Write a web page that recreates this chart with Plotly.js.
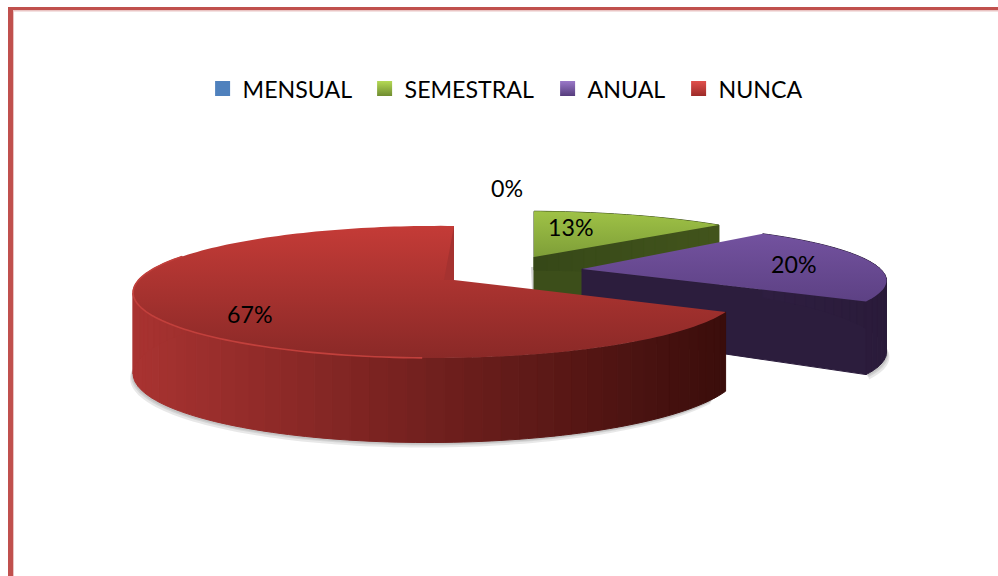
<!DOCTYPE html>
<html><head><meta charset="utf-8">
<script src="https://cdn.plot.ly/plotly-3.0.1.min.js"></script>
<style>html,body{margin:0;padding:0;background:#fff}#c{width:998px;height:576px}</style>
</head><body><div id="c"></div>
<script>
// ---- chart data ----
const categories = ['MENSUAL','SEMESTRAL','ANUAL','NUNCA'];
const values = [0, 13, 20, 67];
const legendColors = ['#4f81bd','#6f8c30','#553c7c','#9c2a28'];
const legendLight  = ['#4f81bd','#b4d955','#9a78c8','#e0504c'];
const legendLeft   = [202.6, 364.6, 547.6, 678.6];

// ---- drawing settings (the 3-D view of each exploded slice) ----
const apexX = [534, 534, 582, 454];
const apexY = [257, 257, 269, 280];
const radX  = [293, 293, 248, 298];
const radY  = [54, 54, 51.5, 63.8];
const tiltK = [.18, .18, .18, .18];
const skewM = [.045, .045, -.169, .055];
const depth = [64, 64, 64, 78];
const depthP= [.5, .5, .5, .4];
const topCols  = [['#4f81bd','#4f81bd'],['#9fc246','#7e9e38'],['#73529f','#5d4184'],['#c43b37','#8a2927']];
const wallCols = [[[79,129,189],[79,129,189]],[[54,72,24],[66,84,28]],[[46,30,64],[42,27,58]],[[169,51,49],[58,13,11]]];
const rimEnd = [0, 0, 0, 292];
const labelX = [507, 570, 793, 249];
const labelY = [188, 227, 264, 314];

function proj(i, deg){
  const t = deg*Math.PI/180, u = Math.sin(t), v = -Math.cos(t);
  const w = 1/(1 - tiltK[i]*v + skewM[i]*u);
  const x = apexX[i] + radX[i]*u*w, y = apexY[i] + radY[i]*v*w;
  return {x, y, d: depth[i]*Math.pow(w, depthP[i])};
}
function arc(i, a, b){
  const out = [], n = Math.max(2, Math.ceil(Math.abs(b-a)/1.5));
  for(let k=0;k<=n;k++) out.push(proj(i, a+(b-a)*k/n));
  return out;
}
function poly(pts, cols, kind){
  const xs = pts.map(p=>p[0]), ys = pts.map(p=>p[1]);
  const along = kind==='horizontal' ? xs : ys;
  return {
    type:'scatter', mode:'lines', x:xs.concat(xs[0]), y:ys.concat(ys[0]),
    fill:'toself', line:{width:0,simplify:false}, hoverinfo:'skip', showlegend:false,
    fillgradient:{type:kind, start:Math.min(...along), stop:Math.max(...along),
      colorscale:[[0,cols[0]],[1,cols[1]]]}
  };
}
function flat(pts, color){
  return {type:'scatter', mode:'lines', x:pts.map(p=>p[0]).concat(pts[0][0]), y:pts.map(p=>p[1]).concat(pts[0][1]),
    fill:'toself', line:{width:1,color:color,simplify:false}, fillcolor:color, hoverinfo:'skip', showlegend:false};
}
function soft(pts, color){
  const t = flat(pts,color); t.line = {width:0,simplify:false}; return t;
}
function mix(c, f){
  return 'rgb('+c[0].map((v,k)=>Math.round(v+(c[1][k]-v)*f)).join(',')+')';
}
// the rim wall, in narrow vertical facets like the reference
function rimFacets(i, a, b){
  const pts = arc(i,a,b);
  const xs = pts.map(p=>p.x), lo = Math.min(...xs), hi = Math.max(...xs);
  const out = [];
  for(let k=0;k+2<pts.length;k+=2){
    const p=pts[k], q=pts[k+2], r=pts[k+1];
    const f = (r.x-lo)/(hi-lo||1);
    out.push(flat([[p.x,p.y],[r.x,r.y],[q.x,q.y],[q.x,q.y+q.d],[r.x,r.y+r.d],[p.x,p.y+p.d]], mix(wallCols[i],f)));
  }
  return out;
}

// slice angle ranges come from the values
const total = values.reduce((a,b)=>a+b,0);
let acc = 0;
const ranges = values.map(v=>{const s=acc; acc+=v/total*360; return [s,acc];});
const traces = [];

// soft ground shadows
[[1,2],[2,3],[3,5]].forEach(s=>{
  [3,2].forEach(i=>{
    const r = ranges[i];
    const a0 = i===3 ? 125 : 80, a1 = i===3 ? rimEnd[3] : r[1];
    const pts = arc(i,a0,a1).map(p=>[p.x-(i===3?s[0]:-s[0]), p.y+p.d+s[1]]);
    const inner = arc(i,a0,a1).map(p=>[p.x, p.y+p.d-14]).reverse();
    traces.push(soft(pts.concat(inner),'rgba(110,110,110,.16)'));
  });
});

[1,2,3].forEach(i=>{
  const [a,b] = ranges[i], B = proj(i,b);
  const ap = {x:apexX[i], y:apexY[i], d:depth[i]};
  if(i===1){
    // faint shadow beside the green cut wall
    traces.push(soft([[ap.x-3,ap.y+10],[ap.x,ap.y+10],[ap.x,ap.y+33],[ap.x-2,ap.y+33]],'rgba(110,110,110,.3)'));
  }
  // cut wall on the end of the slice facing the viewer
  if(i!==3){
    traces.push(flat([[ap.x,ap.y],[B.x,B.y],[B.x,B.y+B.d],[ap.x,ap.y+ap.d]], mix(wallCols[i],.5)));
  }
  // outer rim wall
  const rimTo = i===3 ? rimEnd[3] : b;
  rimFacets(i,a,rimTo).forEach(t=>traces.push(t));
  // top surface
  const top = [[ap.x,ap.y]].concat(arc(i,a,b).map(p=>[p.x,p.y]));
  traces.push(poly(top, topCols[i], 'vertical'));
  if(i===3){
    // sliver of the cut wall next to the gap
    traces.push(soft([[B.x,B.y],[ap.x-10,ap.y],[ap.x,ap.y]],'#a53230'));
    // lit rim
    const hl = arc(i,185,rimEnd[3]);
    traces.push({type:'scatter',mode:'lines',x:hl.map(p=>p.x),y:hl.map(p=>p.y),
      line:{color:'#c2403c',width:1.6,simplify:false},hoverinfo:'skip',showlegend:false});
  }
});

// legend entries, one small legend for each so the gaps match
const layoutLegends = {};
categories.forEach((c,i)=>{
  const key = i===0 ? 'legend' : 'legend'+(i+1);
  traces.push({type:'scatter',mode:'markers',x:[null],y:[null],name:c,legend:key,showlegend:true,
    marker:{symbol:'square',size:15,color:legendLight[i],
      gradient:{type:'vertical',color:legendColors[i]}},hoverinfo:'skip'});
  layoutLegends[key] = {x:legendLeft[i]/998,xanchor:'left',y:1-89/576,yanchor:'middle',
    font:{family:'Lato, sans-serif',size:23.2,color:'#000'},bgcolor:'rgba(0,0,0,0)'};
});

const annotations = values.map((v,i)=>({
  x:labelX[i], y:labelY[i], xref:'x', yref:'y', text:v+'%', showarrow:false,
  font:{family:'Lato, sans-serif',size:23.2,color:'#000'}
}));

const shapes = [
  {type:'rect',xref:'x',yref:'y',x0:13,x1:14,y0:10,y1:576,fillcolor:'#eac4c3',line:{width:0},layer:'below'},
  {type:'rect',xref:'x',yref:'y',x0:13,x1:998,y0:10,y1:11.5,fillcolor:'#eac4c3',line:{width:0},layer:'below'},
  {type:'rect',xref:'x',yref:'y',x0:8,x1:13,y0:7,y1:576,fillcolor:'#c0504d',line:{width:0},layer:'below'},
  {type:'rect',xref:'x',yref:'y',x0:8,x1:998,y0:7,y1:10,fillcolor:'#c0504d',line:{width:0},layer:'below'}
];

const layout = Object.assign({
  width:998,height:576,margin:{l:0,r:0,t:0,b:0},
  paper_bgcolor:'#fff',plot_bgcolor:'#fff',
  xaxis:{visible:false,range:[0,998],fixedrange:true},
  yaxis:{visible:false,range:[576,0],fixedrange:true},
  showlegend:true,
  annotations, shapes
}, layoutLegends);
Plotly.newPlot('c',traces,layout,{displayModeBar:false,staticPlot:true});
</script>
</body></html>
